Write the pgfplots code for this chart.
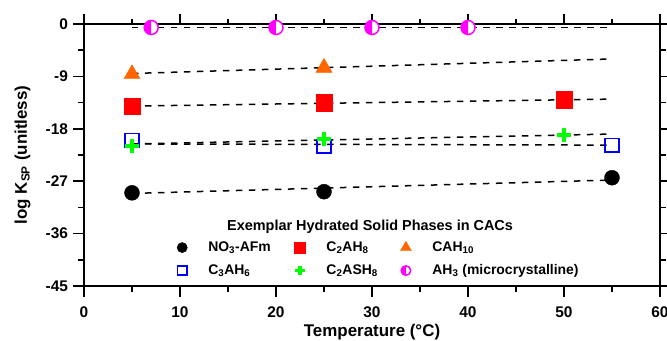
\documentclass[border=0pt]{standalone}
\usepackage{pgfplots}
\pgfplotsset{compat=1.18}
\usepackage{fontspec}
\setmainfont{Liberation Sans}
\definecolor{cOrange}{RGB}{255,102,0}
\definecolor{cGreen}{RGB}{0,255,0}
\definecolor{cBlue}{RGB}{0,0,255}
\definecolor{cRed}{RGB}{255,0,0}
\definecolor{cMag}{RGB}{255,0,255}
\pgfdeclareplotmark{halfcirc}{%
  \pgfpathcircle{\pgfpointorigin}{\pgfplotmarksize}%
  \pgfsetfillcolor{white}%
  \pgfusepathqfill
  \pgfpathmoveto{\pgfqpoint{0pt}{\pgfplotmarksize}}%
  \pgfpatharc{90}{270}{\pgfplotmarksize}%
  \pgfpathclose
  \pgfsetfillcolor{cMag}%
  \pgfusepathqfill
  \pgfpathcircle{\pgfpointorigin}{\pgfplotmarksize}%
  \pgfusepathqstroke
}
\begin{document}
\begin{tikzpicture}
\begin{axis}[
  scale only axis, width=576bp, height=262bp,
  xmin=0, xmax=60, ymin=-45, ymax=0,
  xtick={0,10,...,60}, minor xtick={5,15,...,55},
  ytick={-45,-36,-27,-18,-9,0}, minor ytick={-40.5,-31.5,-22.5,-13.5,-4.5},
  tick align=outside, major tick length=10.5bp, minor tick length=5.5bp,
  every tick/.style={black, line width=1.6bp},
  axis line style={line width=1.6bp},
  tick label style={font=\fontsize{15.5}{17}\selectfont\bfseries},
  xticklabel style={yshift=-7bp},
  yticklabel style={xshift=-2bp},
  /pgf/number format/assume math mode=true,
  xlabel={Temperature (°C)},
  ylabel={log K\textsubscript{SP} (unitless)},
  every axis x label/.style={at={(axis description cs:0.5,0)}, yshift=-50.5bp, anchor=base, font=\fontsize{17}{19}\selectfont\bfseries},
  every axis y label/.style={at={(axis description cs:0,0.5)}, xshift=-57bp, rotate=90, anchor=base, font=\fontsize{17}{19}\selectfont\bfseries},
  clip=false,
  legend columns=3,
  legend style={draw=none, fill=none, inner sep=0pt, outer sep=0pt,
    at={(axis cs:9.7,-37.2)}, anchor=north west,
    font=\fontsize{14}{16}\selectfont\bfseries,
    nodes={inner sep=0pt, text height=10.5bp, text depth=3.5bp, anchor=west},
    row sep=9bp,
    /tikz/every odd column/.append style={column sep=21bp},
    /tikz/every even column/.append style={column sep=0bp},
    /tikz/column 2/.append style={text width=86bp},
    /tikz/column 4/.append style={text width=74bp}},
  legend image code/.code={\draw[#1, every mark/.append style={scale=0.68}] plot coordinates {(5bp,0bp)};},
  dashline/.style={black, line width=1.5bp, dash pattern=on 6.5bp off 6.5bp, forget plot, no marks},
]
% markers
\addplot[only marks, mark=*, mark size=7.5bp, black] coordinates {(5,-29.0) (25,-28.8) (55,-26.4)};
\addlegendentry{NO\textsubscript{3}-AFm}
\addplot[only marks, mark=square*, mark size=8.2bp, cRed] coordinates {(5,-14.1) (25,-13.5) (50,-13.0)};
\addlegendentry{C\textsubscript{2}AH\textsubscript{8}}
\addplot[only marks, mark=triangle*, mark size=9.3bp, cOrange] coordinates {(5,-8.6) (25,-7.5)};
\addlegendentry{CAH\textsubscript{10}}
\addplot[only marks, mark=square, mark size=6.8bp, cBlue, line width=1.6bp] coordinates {(5,-20.0) (25,-21.0) (55,-20.8)};
\addlegendentry{C\textsubscript{3}AH\textsubscript{6}}
\addplot[only marks, mark=+, mark size=7bp, cGreen, line width=3.8bp] coordinates {(5,-21.0) (25,-19.8) (50,-19.1)};
\addlegendentry{C\textsubscript{2}ASH\textsubscript{8}}
\addplot[only marks, mark=halfcirc, mark size=7bp, draw=cMag, line width=1.5bp] coordinates {(7,-0.6) (20,-0.6) (30,-0.6) (40,-0.6)};
\addlegendentry{AH\textsubscript{3} (microcrystalline)}
% dashed fits
\addplot[dashline] coordinates {(5,-0.6) (55,-0.6)};
\addplot[dashline] coordinates {(5,-8.5) (55,-6.0)};
\addplot[dashline] coordinates {(5,-14.1) (55,-12.9)};
\addplot[dashline] coordinates {(5,-20.6) (55,-18.9)};
\addplot[dashline] coordinates {(5,-20.6) (55,-20.8)};
\addplot[dashline] coordinates {(5,-29.1) (55,-26.8)};
\node[font=\fontsize{14.5}{16}\selectfont\bfseries] at (axis cs:29.8,-34.9) {Exemplar Hydrated Solid Phases in CACs};
\end{axis}
\pgfresetboundingbox
\path[use as bounding box] ([xshift=-84bp,yshift=-55bp]current axis.south west) rectangle ++(667bp,341bp);
\end{tikzpicture}
\end{document}
